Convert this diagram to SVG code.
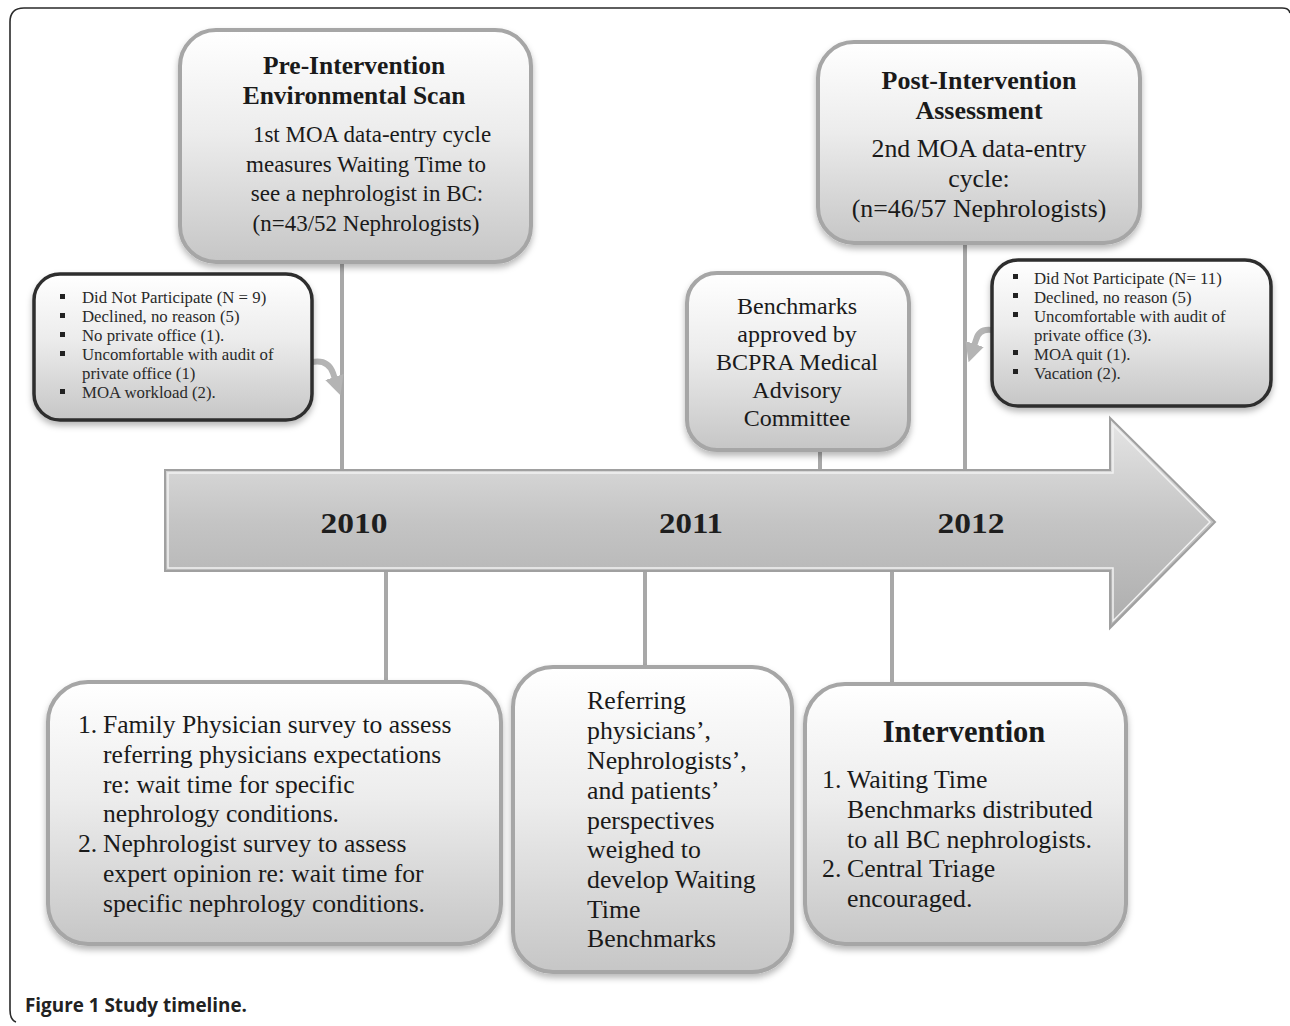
<svg xmlns="http://www.w3.org/2000/svg" width="1290" height="1026" viewBox="0 0 1290 1026">
<defs>
  <linearGradient id="boxg" x1="0" y1="0" x2="0" y2="1">
    <stop offset="0" stop-color="#ffffff"/>
    <stop offset="0.45" stop-color="#ececec"/>
    <stop offset="1" stop-color="#c6c6c6"/>
  </linearGradient>
  <linearGradient id="arrowg" x1="0" y1="0" x2="0" y2="1">
    <stop offset="0" stop-color="#e6e6e6"/>
    <stop offset="0.5" stop-color="#c4c4c4"/>
    <stop offset="1" stop-color="#adadad"/>
  </linearGradient>
  <filter id="sh" x="-10%" y="-10%" width="120%" height="125%">
    <feDropShadow dx="0" dy="4" stdDeviation="3" flood-color="#000" flood-opacity="0.28"/>
  </filter>
  <marker id="ah" viewBox="0 0 10 10" refX="6" refY="5" markerWidth="3.2" markerHeight="3.2" orient="auto">
    <path d="M0,0 L10,5 L0,10 z" fill="#b4b4b4"/>
  </marker>
  <style>
    .box{fill:url(#boxg);stroke:#a6a6a6;stroke-width:4}
    .dbox{fill:url(#boxg);stroke:#2e2e2e;stroke-width:3.5}
    .t{font-family:"Liberation Serif","Times New Roman",serif;font-size:24px;fill:#1a1a1a}
    .tb{font-family:"Liberation Serif","Times New Roman",serif;font-size:25.5px;font-weight:bold;fill:#1a1a1a}
    .s{font-family:"Liberation Serif","DejaVu Serif",serif;font-size:16.8px;fill:#2a2a2a}
    .yr{font-family:"Liberation Serif","Times New Roman",serif;font-size:30px;font-weight:bold;fill:#1e1e1e}
    .ln{stroke:#a8a8a8;stroke-width:4;fill:none}
    .cv{stroke:#b4b4b4;stroke-width:6;fill:none;stroke-linecap:butt}
    .c{text-anchor:middle}
    .bul{fill:#222}
  </style>
</defs>
<rect width="1290" height="1026" fill="#ffffff"/>
<path d="M16 1022 Q10 1020 10 1010 L10 22 Q10 8 24 8 L1282 8 Q1289 8 1290 13" fill="none" stroke="#2a2a2a" stroke-width="1.6"/>

<g id="connectors">
  <line class="ln" x1="342" y1="262" x2="342" y2="470"/>
  <line class="ln" x1="820" y1="450" x2="820" y2="470"/>
  <line class="ln" x1="965" y1="243" x2="965" y2="470"/>
  <line class="ln" x1="386" y1="571" x2="386" y2="682"/>
  <line class="ln" x1="645" y1="571" x2="645" y2="667"/>
  <line class="ln" x1="892" y1="571" x2="892" y2="684"/>
  <path class="cv" d="M312 362 Q328 359 333 373 L338 388" marker-end="url(#ah)"/>
  <path class="cv" d="M992 330 Q979 328 976 340 L971 355" marker-end="url(#ah)"/>
</g>

<g id="timeline">
  <path d="M165 470 L1110 470 L1110 418 L1215 522 L1110 628 L1110 571 L165 571 Z" fill="url(#arrowg)" stroke="#a0a0a0" stroke-width="2"/>
  <path d="M168 473 L1113 473 L1113 425 L1210 522 L1113 621 L1113 568 L168 568 Z" fill="none" stroke="#f2f2f2" stroke-width="1.5"/>
  <text class="yr c" x="354" y="533" textLength="67" lengthAdjust="spacingAndGlyphs">2010</text>
  <text class="yr c" x="691" y="533" textLength="64" lengthAdjust="spacingAndGlyphs">2011</text>
  <text class="yr c" x="971" y="533" textLength="67" lengthAdjust="spacingAndGlyphs">2012</text>
</g>

<g id="pre-intervention">
  <rect class="box" x="180" y="30" width="351" height="232" rx="36" filter="url(#sh)"/>
  <text class="tb c" x="354" y="74">Pre-Intervention</text>
  <text class="tb c" x="354" y="104">Environmental Scan</text>
  <g style="font-size:23px">
  <text class="t c" x="372" y="142" style="font-size:23px">1st MOA data-entry cycle</text>
  <text class="t c" x="366" y="172" style="font-size:23px">measures Waiting Time to</text>
  <text class="t c" x="367" y="201" style="font-size:23px">see a nephrologist in BC:</text>
  <text class="t c" x="366" y="231" style="font-size:23px">(n=43/52 Nephrologists)</text>
  </g>
</g>

<g id="did-not-participate-1">
  <rect class="dbox" x="34" y="274" width="278" height="146" rx="26" filter="url(#sh)"/>
  <rect class="bul" x="60" y="294" width="5" height="5"/>
  <rect class="bul" x="60" y="313" width="5" height="5"/>
  <rect class="bul" x="60" y="332" width="5" height="5"/>
  <rect class="bul" x="60" y="351" width="5" height="5"/>
  <rect class="bul" x="60" y="389" width="5" height="5"/>
  <text class="s" x="82" y="303">Did Not Participate (N = 9)</text>
  <text class="s" x="82" y="322">Declined, no reason (5)</text>
  <text class="s" x="82" y="341">No private office (1).</text>
  <text class="s" x="82" y="360">Uncomfortable with audit of</text>
  <text class="s" x="82" y="379">private office (1)</text>
  <text class="s" x="82" y="398">MOA workload (2).</text>
</g>

<g id="benchmarks-approved">
  <rect class="box" x="687" y="273" width="222" height="177" rx="30" filter="url(#sh)"/>
  <text class="t c" x="797" y="314">Benchmarks</text>
  <text class="t c" x="797" y="342">approved by</text>
  <text class="t c" x="797" y="370">BCPRA Medical</text>
  <text class="t c" x="797" y="398">Advisory</text>
  <text class="t c" x="797" y="426">Committee</text>
</g>

<g id="post-intervention">
  <rect class="box" x="818" y="42" width="322" height="201" rx="36" filter="url(#sh)"/>
  <text class="tb c" x="979" y="89" style="font-size:26px">Post-Intervention</text>
  <text class="tb c" x="979" y="119" style="font-size:26px">Assessment</text>
  <text class="t c" x="979" y="157" style="font-size:25.8px">2nd MOA data-entry</text>
  <text class="t c" x="979" y="187" style="font-size:25.8px">cycle:</text>
  <text class="t c" x="979" y="217" style="font-size:25.8px">(n=46/57 Nephrologists)</text>
</g>

<g id="did-not-participate-2">
  <rect class="dbox" x="992" y="260" width="279" height="146" rx="26" filter="url(#sh)"/>
  <rect class="bul" x="1013" y="274" width="5" height="5"/>
  <rect class="bul" x="1013" y="293" width="5" height="5"/>
  <rect class="bul" x="1013" y="312" width="5" height="5"/>
  <rect class="bul" x="1013" y="350" width="5" height="5"/>
  <rect class="bul" x="1013" y="369" width="5" height="5"/>
  <text class="s" x="1034" y="284">Did Not Participate (N= 11)</text>
  <text class="s" x="1034" y="303">Declined, no reason (5)</text>
  <text class="s" x="1034" y="322">Uncomfortable with audit of</text>
  <text class="s" x="1034" y="341">private office (3).</text>
  <text class="s" x="1034" y="360">MOA quit (1).</text>
  <text class="s" x="1034" y="379">Vacation (2).</text>
</g>

<g id="surveys" style="font-size:25.6px">
  <rect class="box" x="48" y="682" width="453" height="262" rx="40" filter="url(#sh)"/>
  <text class="t" x="78" y="733" style="font-size:25.6px">1.</text>
  <text class="t" x="103" y="733" style="font-size:25.6px">Family Physician survey to assess</text>
  <text class="t" x="103" y="763" style="font-size:25.6px">referring physicians expectations</text>
  <text class="t" x="103" y="793" style="font-size:25.6px">re: wait time for specific</text>
  <text class="t" x="103" y="822" style="font-size:25.6px">nephrology conditions.</text>
  <text class="t" x="78" y="852" style="font-size:25.6px">2.</text>
  <text class="t" x="103" y="852" style="font-size:25.6px">Nephrologist survey to assess</text>
  <text class="t" x="103" y="882" style="font-size:25.6px">expert opinion re: wait time for</text>
  <text class="t" x="103" y="912" style="font-size:25.6px">specific nephrology conditions.</text>
</g>

<g id="perspectives">
  <rect class="box" x="513" y="667" width="279" height="305" rx="40" filter="url(#sh)"/>
  <text class="t" x="587" y="709" style="font-size:25.8px">Referring</text>
  <text class="t" x="587" y="739" style="font-size:25.8px">physicians’,</text>
  <text class="t" x="587" y="769" style="font-size:25.8px">Nephrologists’,</text>
  <text class="t" x="587" y="799" style="font-size:25.8px">and patients’</text>
  <text class="t" x="587" y="829" style="font-size:25.8px">perspectives</text>
  <text class="t" x="587" y="858" style="font-size:25.8px">weighed to</text>
  <text class="t" x="587" y="888" style="font-size:25.8px">develop Waiting</text>
  <text class="t" x="587" y="918" style="font-size:25.8px">Time</text>
  <text class="t" x="587" y="947" style="font-size:25.8px">Benchmarks</text>
</g>

<g id="intervention">
  <rect class="box" x="805" y="684" width="321" height="260" rx="40" filter="url(#sh)"/>
  <text class="tb c" x="964" y="742" style="font-size:30.5px">Intervention</text>
  <text class="t" x="822" y="788" style="font-size:25.8px">1.</text>
  <text class="t" x="847" y="788" style="font-size:25.8px">Waiting Time</text>
  <text class="t" x="847" y="818" style="font-size:25.8px">Benchmarks distributed</text>
  <text class="t" x="847" y="848" style="font-size:25.8px">to all BC nephrologists.</text>
  <text class="t" x="822" y="877" style="font-size:25.8px">2.</text>
  <text class="t" x="847" y="877" style="font-size:25.8px">Central Triage</text>
  <text class="t" x="847" y="907" style="font-size:25.8px">encouraged.</text>
</g>

<text x="25" y="1012" textLength="222" lengthAdjust="spacingAndGlyphs" style="font-family:'Open Sans','Liberation Sans',sans-serif;font-size:19.5px;font-weight:bold;fill:#222">Figure 1 Study timeline.</text>
</svg>
